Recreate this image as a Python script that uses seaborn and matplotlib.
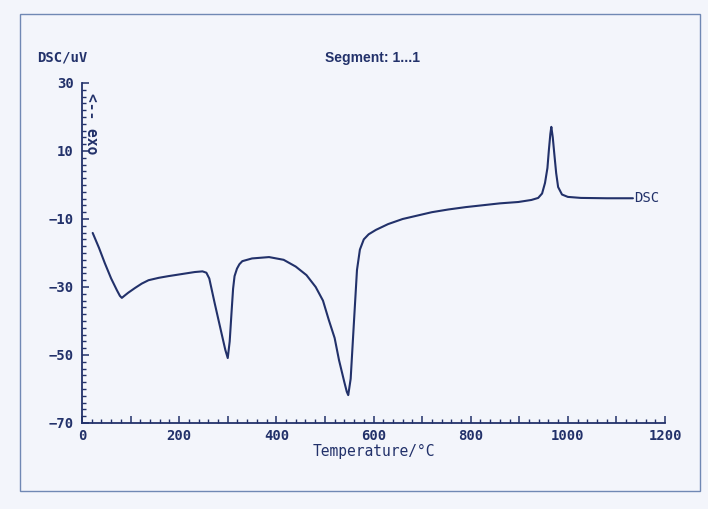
import matplotlib
matplotlib.use("Agg")
import matplotlib.pyplot as plt
from matplotlib.patches import Rectangle
from matplotlib.ticker import MultipleLocator, FuncFormatter
import numpy as np
import pandas as pd
import seaborn as sns

# DSC heating curve, segment 1
temperature = [22, 35, 47, 60, 72, 78, 82, 88, 95, 109, 123, 137, 158, 178, 205, 232,
               248, 256, 262, 273, 287, 295, 300, 304, 308, 311, 314, 319, 324, 330,
               350, 385, 415, 440, 462, 481, 496, 508, 520, 529, 540, 545, 548, 553,
               560, 566, 572, 580, 590, 605, 630, 660, 690, 720, 754, 790, 822, 860,
               898, 925, 939, 947, 953, 958, 961, 964, 966, 969, 972, 976, 980, 988,
               1000, 1027, 1080, 1134]
dsc_uv = [-14.1, -18.5, -23.0, -27.5, -31.0, -32.6, -33.2, -32.5, -31.7, -30.3, -29.0,
          -28.0, -27.3, -26.8, -26.2, -25.6, -25.4, -25.8, -27.5, -34.7, -43.5, -48.5,
          -50.9, -46.0, -37.0, -30.5, -26.8, -24.6, -23.3, -22.4, -21.6, -21.2, -22.0,
          -24.0, -26.5, -30.0, -34.0, -39.7, -45.0, -51.5, -58.0, -60.8, -61.8, -57.0,
          -39.7, -25.0, -19.0, -16.0, -14.5, -13.2, -11.5, -10.0, -9.0, -8.0, -7.2,
          -6.5, -6.0, -5.4, -5.0, -4.4, -3.8, -2.5, 0.6, 5.0, 10.3, 15.0, 17.1, 14.0,
          9.4, 3.5, -0.6, -2.8, -3.5, -3.8, -3.9, -3.9]

y_ticks = [-70, -50, -30, -10, 10, 30]
x_ticks = [0, 200, 400, 600, 800, 1000, 1200]

ink = "#22316a"
paper = "#f3f5fb"
mono = ["DejaVu Sans Mono"]

sns.set_theme(style="ticks")
plt.rcParams["font.family"] = mono

fig = plt.figure(figsize=(7.08, 5.09), dpi=100, facecolor=paper)
W, H = 708, 509
ax = fig.add_axes([82 / W, (H - 423) / H, 583 / W, 340 / H])
ax.set_facecolor(paper)

df = pd.DataFrame({"Temperature": temperature, "DSC": dsc_uv})
sns.lineplot(data=df, x="Temperature", y="DSC", ax=ax, color=ink, linewidth=1.5,
             sort=False, estimator=None)

ax.set_xlim(0, 1200)
ax.set_ylim(-70, 30)
for side in ("top", "right"):
    ax.spines[side].set_visible(False)
for side in ("left", "bottom"):
    ax.spines[side].set_color(ink)
    ax.spines[side].set_linewidth(1.3)

ax.set_yticks(y_ticks)
ax.yaxis.set_minor_locator(MultipleLocator(2))
ax.xaxis.set_major_locator(MultipleLocator(100))
ax.xaxis.set_major_formatter(FuncFormatter(lambda v, p: f"{int(v)}" if int(v) in x_ticks else ""))
ax.xaxis.set_minor_locator(MultipleLocator(20))
ax.tick_params(axis="both", which="major", direction="in", length=5, width=1.1,
               color=ink, labelcolor=ink, labelsize=10)
ax.tick_params(axis="both", which="minor", direction="in", length=3, width=1.0, color=ink)
ax.tick_params(axis="y", pad=6)
ax.tick_params(axis="x", pad=4)
for lab in ax.get_xticklabels() + ax.get_yticklabels():
    lab.set_fontweight("bold")

ax.set_xlabel("Temperature/°C", color=ink, fontsize=10.5, labelpad=1)
ax.set_ylabel("")

# exothermic direction marker beside the axis
ax.text(0.017, 0.972, "<-- exo", transform=ax.transAxes, rotation=-90,
        ha="center", va="top", fontsize=10.5, color=ink, fontweight="bold")

# curve label at the end of the trace
ax.text(temperature[-1] + 2, dsc_uv[-1], "DSC", ha="left", va="center",
        fontsize=10, color=ink)

fig.text(37 / W, 1 - 58 / H, "DSC/uV", ha="left", va="center", fontsize=10,
         color=ink, fontweight="bold")
fig.text(372 / W, 1 - 58 / H, "Segment: 1...1", ha="center", va="center",
         fontsize=10, color=ink, family=["Liberation Sans"], fontweight="bold")

fig.add_artist(Rectangle((20 / W, (H - 491) / H), 680 / W, 477 / H,
                         transform=fig.transFigure, fill=False,
                         edgecolor="#7088b4", linewidth=1.0))

fig.savefig("out.png", dpi=100, facecolor=paper)
